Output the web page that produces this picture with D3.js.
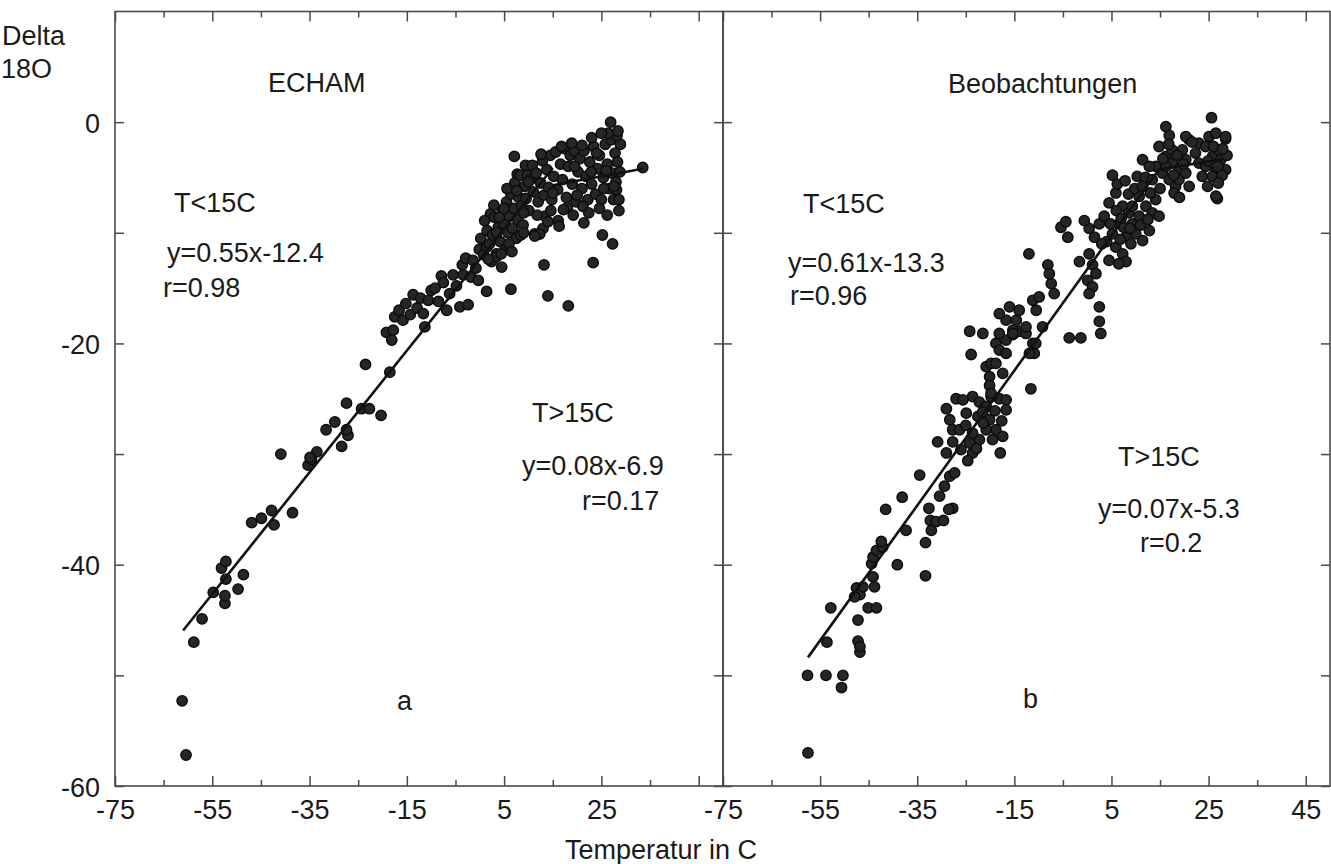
<!DOCTYPE html>
<html><head><meta charset="utf-8">
<script src="https://cdn.jsdelivr.net/npm/d3@7"></script>
<style>html,body{margin:0;padding:0;background:#fff;overflow:hidden}</style>
</head><body>
<svg id="chart" width="1331" height="864"></svg>
<script>
// ---------------- data ----------------
const panelTitles = ["ECHAM", "Beobachtungen"];
const panelLetters = ["a", "b"];
const xTickValues = [-75,-65,-55,-45,-35,-25,-15,-5,5,15,25,35,45];
const xLabelsLeft = [-75,-55,-35,-15,5,25];
const xLabelsRight = [-75,-55,-35,-15,5,25,45];
const yTickValues = [-60,-50,-40,-30,-20,-10,0];
const yLabels = [0,-20,-40,-60];
const yTitleLines = ["Delta", "18O"];
const xTitle = "Temperatur in C";

// ECHAM: [temperature, delta18O]
const echamPoints = [
[-60.4,-57.2],[-61.2,-52.3],[-58.8,-47.0],[-57.1,-44.9],[-54.8,-42.5],[-52.4,-43.5],[-52.4,-42.8],[-53.1,-40.3],[-52.2,-39.7],[-52.2,-41.3],[-49.7,-42.2],[-48.6,-40.9],[-46.9,-36.2],[-44.9,-35.8],[-42.8,-35.1],[-42.3,-36.4],[-38.5,-35.3],[-40.9,-30.0],[-35.3,-31.0],[-34.6,-30.5],[-33.5,-29.8],[-34.9,-30.3],[-29.8,-27.1],[-31.6,-27.8],[-27.1,-28.3],[-27.4,-27.8],[-28.4,-29.3],[-27.4,-25.4],[-24.3,-25.9],[-22.7,-25.9],[-20.3,-26.5],[-23.5,-21.9],[-18.5,-22.6],
[-19.2,-19.0],[-18.1,-19.7],[-17.8,-18.8],[-17.5,-17.6],[-16.6,-17.0],[-15.8,-17.9],[-15.2,-16.4],[-14.3,-17.4],[-13.7,-15.6],[-12.9,-16.8],[-12.2,-15.9],[-11.6,-17.3],[-11.3,-18.5],[-10.6,-16.1],[-10.0,-15.2],[-9.2,-15.0],[-8.5,-16.2],[-7.9,-13.9],[-7.5,-14.5],[-6.8,-17.0],[-6.2,-15.5],[-5.5,-13.8],[-4.8,-14.8],[-4.1,-16.7],[-3.6,-12.9],[-3.4,-13.8],[-2.9,-12.3],[-2.4,-16.5],[-1.8,-14.0],[-1.4,-12.5],[-0.8,-13.2],[-0.3,-14.3],[-0.1,-11.5],[1.4,-11.3],[2.4,-12.6],[3.4,-11.9],[4.5,-13.1],[1.4,-15.3],[6.4,-15.1],
[0.2,-10.5],[0.8,-12.0],[1.5,-9.8],[2.0,-11.0],[2.2,-8.3],[2.6,-10.2],[3.0,-8.6],[3.3,-12.2],[3.8,-9.5],[4.2,-10.8],[4.6,-8.0],[5.0,-9.2],[5.2,-11.5],[5.5,-7.2],[5.8,-10.0],[6.1,-8.5],[6.4,-6.5],[6.7,-9.6],[7.0,-7.8],[7.1,-3.1],[7.2,-5.5],[7.5,-10.5],[7.7,-4.7],[7.8,-8.8],[8.0,-6.8],[8.3,-4.8],[8.6,-7.5],[8.9,-9.3],[9.2,-5.8],[9.5,-6.9],[9.8,-4.8],[10.1,-8.0],[10.4,-5.2],[4.0,-8.6],[5.0,-7.8],[6.0,-11.0],[3.5,-10.0],[9.0,-8.2],[10.0,-5.4],
[1.0,-8.9],[2.9,-7.5],[1.8,-12.4],[4.4,-11.9],[6.6,-11.7],[5.6,-6.0],[7.6,-6.2],[8.4,-10.2],[9.4,-3.9],
[10.8,-3.9],[11.0,-6.3],[11.3,-10.1],[11.6,-4.6],[12.0,-7.2],[12.3,-10.1],[12.5,-5.5],[12.9,-3.5],[13.2,-6.6],[13.4,-8.5],[13.8,-4.3],[14.1,-5.9],[14.5,-3.0],[14.8,-7.0],[15.2,-4.9],[15.6,-2.7],[16.0,-6.1],[16.1,-8.9],[16.3,-9.4],[16.6,-3.8],[17.0,-5.2],[17.4,-2.4],[17.8,-6.8],[18.2,-4.0],[18.6,-3.0],[19.0,-5.6],[19.4,-2.6],[19.8,-7.2],[20.2,-4.5],[20.6,-3.3],[21.0,-6.0],[21.4,-2.6],[21.8,-4.9],[22.2,-7.0],[22.6,-3.6],[23.0,-5.6],[23.4,-2.2],[23.8,-6.5],[24.2,-4.2],[24.6,-3.0],[25.0,-7.0],[25.4,-5.0],[25.8,-2.0],[26.2,-3.8],[26.6,-6.0],[27.0,-1.6],[27.2,-4.6],[27.5,-7.0],[27.8,-2.8],[28.0,-5.4],[28.3,-3.6],[28.6,-7.0],[28.6,-8.0],[28.1,-6.1],[28.8,-4.5],[28.9,-2.0],[26.9,0.0],[33.5,-4.1],
[11.8,-8.4],[14.6,-8.0],[15.0,-6.4],[18.0,-7.7],[19.5,-4.0],[21.2,-7.6],[22.9,-4.5],[24.0,-2.8],[25.5,-6.0],[26.0,-4.4],[27.6,-5.8],[28.2,-1.2],[26.4,-1.0],[9.0,-10.0],[13.0,-9.6],[20.0,-6.6],
[12.6,-2.9],[16.8,-2.2],[18.9,-1.9],[21.0,-2.1],[23.0,-1.4],[25.0,-1.0],[17.2,-7.9],[19.2,-8.4],[22.4,-8.2],[24.6,-7.8],[26.2,-8.4],[28.4,-0.8],[14.0,-9.0],
[21.4,-9.1],[25.2,-10.2],[27.3,-11.0],[23.3,-12.7],[13.2,-12.9],[14.0,-15.7],[18.2,-16.6],[12.3,-10.1],[11.3,-10.3]
];

// Beobachtungen: [temperature, delta18O]
const beobPoints = [
[-57.5,-57.0],[-57.6,-50.0],[-53.8,-50.0],[-50.3,-50.0],[-50.6,-51.1],[-53.6,-47.0],[-52.8,-43.9],[-47.2,-45.0],[-47.2,-46.9],[-46.8,-47.9],[-46.8,-47.4],[-47.5,-42.1],[-46.8,-42.7],[-47.9,-42.9],[-45.1,-43.9],[-43.4,-43.9],[-46.2,-42.0],[-44.1,-41.1],[-43.8,-42.0],[-44.4,-39.9],[-44.1,-39.3],[-43.4,-38.7],[-42.1,-38.4],[-42.4,-37.9],[-39.1,-40.0],[-33.3,-41.0],[-33.3,-38.0],[-37.3,-36.9],[-41.5,-35.0],[-38.1,-33.9],[-34.5,-31.9],[-32.6,-34.9],[-32.3,-36.0],[-32.1,-36.9],[-31.1,-36.1],[-29.6,-36.0],[-30.4,-33.8],[-29.4,-32.9],[-28.3,-32.0],[-27.3,-31.7],[-27.7,-34.9],[-28.5,-35.0],[-30.8,-28.9],[-29.0,-29.9],[-27.7,-28.9],[-27.0,-25.0],[-29.0,-25.9],[-28.3,-26.9],[-27.7,-27.8],[-17.9,-29.9],[-11.6,-24.1],
[-24.2,-29.0],[-23.6,-29.9],[-22.2,-28.7],[-23.6,-24.8],[-22.2,-25.3],[-20.8,-25.7],[-22.5,-26.6],[-21.5,-26.2],[-20.1,-26.9],[-18.8,-27.8],[-18.1,-25.0],[-16.7,-25.1],[-16.7,-26.0],[-19.8,-24.8],[-25.6,-25.1],[-24.9,-26.3],[-26.3,-27.8],[-23.6,-28.1],[-20.8,-27.8],[-19.5,-28.7],[-17.4,-28.4],
[-26.0,-29.6],[-25.0,-27.4],[-21.4,-27.2],[-19.0,-26.1],[-17.6,-27.0],[-24.6,-30.6],[-22.8,-29.5],
[-23.9,-21.0],[-24.2,-18.9],[-20.8,-22.1],[-19.8,-21.8],[-20.1,-23.0],[-20.1,-23.8],[-19.8,-24.5],[-18.8,-20.0],[-18.1,-20.6],[-16.7,-19.7],[-15.3,-19.2],[-14.0,-18.9],[-12.6,-19.1],[-11.2,-20.0],[-10.9,-20.9],[-11.9,-20.9],[-21.5,-19.1],[-18.1,-19.1],[-15.3,-18.8],[-10.6,-20.0],[-18.8,-21.8],[-17.4,-22.7],[-16.7,-20.9],
[-16.7,-17.9],[-14.0,-17.0],[-11.2,-16.1],[-9.9,-15.8],[-12.6,-18.5],[-15.3,-19.1],[-18.1,-17.3],[-16.0,-16.7],[-14.6,-17.9],[-10.5,-17.0],[-9.2,-18.5],
[-12.0,-11.9],[-5.4,-9.5],[-4.4,-9.0],[-4.0,-10.4],[-8.1,-12.9],[-7.8,-13.7],[-7.4,-14.6],[-6.8,-15.5],[-1.6,-12.6],[0.4,-11.9],[1.1,-12.9],[0.1,-14.3],[1.1,-14.9],[0.4,-15.5],[1.8,-13.7],[2.5,-16.7],[2.5,-18.0],[2.8,-19.1],[-3.7,-19.5],[-1.3,-19.5],[0.4,-9.6],[-0.6,-8.9],[1.5,-10.4],[2.5,-9.2],
[4.5,-7.3],[5.9,-6.4],[7.3,-7.6],[8.6,-8.2],[9.3,-9.2],[6.6,-9.2],[5.2,-10.1],[8.0,-10.4],[10.7,-8.5],[12.1,-7.6],[13.4,-8.2],[14.8,-8.5],[14.1,-7.0],[10.7,-6.7],[5.9,-11.3],[7.3,-11.9],[4.5,-12.5],[8.0,-12.6],[11.4,-10.7],[9.3,-7.6],[5.2,-4.8],[10.3,-4.9],[3.5,-8.5],[6.0,-8.0],[7.5,-9.5],[9.0,-11.0],[11.0,-9.3],[12.8,-9.8],[4.0,-10.8],[6.5,-12.8],[8.5,-6.5],[3.0,-11.0],[6.8,-10.6],
[6.2,-5.6],[7.8,-5.3],[9.8,-6.0],[12.0,-5.0],[13.0,-6.4],[4.8,-9.2],[7.0,-8.7],[10.0,-10.1],[12.5,-8.8],[8.8,-9.6],
[14.8,-2.2],[16.2,-3.1],[17.5,-3.7],[18.9,-4.3],[20.3,-3.4],[15.5,-4.6],[16.9,-5.2],[18.2,-5.8],[14.1,-4.0],[19.6,-2.5],[17.5,-2.5],[16.2,-4.0],[18.9,-5.2],[20.3,-4.6],[11.4,-3.4],[12.8,-4.0],[13.4,-5.2],[11.4,-5.8],[16.2,-0.4],[16.9,-1.2],[25.6,0.4],[26.8,-6.9],[17.9,-6.4],[21.0,-5.8],[15.0,-6.0],[19.0,-6.8],
[15.6,-3.3],[17.8,-4.8],[19.8,-3.8],[16.8,-2.0],[18.5,-3.0],
[25.1,-1.3],[26.5,-1.0],[28.5,-1.5],[23.0,-1.9],[24.4,-2.2],[25.8,-3.1],[27.5,-3.4],[26.5,-4.3],[28.5,-4.3],[23.7,-4.9],[25.8,-4.9],[27.8,-4.8],[23.0,-3.7],[21.0,-1.6],[22.3,-2.8],[24.4,-4.0],[27.1,-2.5],[20.3,-1.3],[21.6,-1.8],[28.5,-1.3],[26.5,-6.7],[28.8,-3.0],[24.8,-5.8],[27.0,-5.5],
[26.0,-2.2],[27.9,-2.4],[24.9,-3.5],[26.9,-4.0]
];

// regression segments: slope, intercept, x-range
const echamFits = [
  {slope:0.55, intercept:-12.4, x0:-61.0, x1:15},
  {slope:0.08, intercept:-6.9, x0:15, x1:33.5}
];
const beobFits = [
  {slope:0.61, intercept:-13.3, x0:-57.5, x1:15},
  {slope:0.07, intercept:-5.3, x0:15, x1:28}
];
const echamNotes = ["T<15C","y=0.55x-12.4","r=0.98","T>15C","y=0.08x-6.9","r=0.17"];
const beobNotes  = ["T<15C","y=0.61x-13.3","r=0.96","T>15C","y=0.07x-5.3","r=0.2"];

// ---------------- layout ----------------
const FONT = "'Liberation Sans', Arial, Helvetica, sans-serif";
const FS = 27;
const svg = d3.select("#chart");
const plotTop = 11.5, plotBottom = 786;
const yScale = d3.scaleLinear().domain([-60, 10]).range([plotBottom, plotTop]);

const panels = [
  {x: d3.scaleLinear().domain([-75, 50]).range([115, 723]), pts: echamPoints, fits: echamFits,
   labels: xLabelsLeft, notes: echamNotes, title: panelTitles[0], letter: panelLetters[0],
   titlePos:[268,92], notePos:[[174,212],[167,262],[163,297],[532,422],[522,475],[582,510]], letterPos:[397,710]},
  {x: d3.scaleLinear().domain([-75, 50]).range([723, 1330]), pts: beobPoints, fits: beobFits,
   labels: xLabelsRight, notes: beobNotes, title: panelTitles[1], letter: panelLetters[1],
   titlePos:[948,93], notePos:[[803,213],[788,272],[790,305],[1118,466],[1098,518],[1140,552]], letterPos:[1023,708]}
];

const axisColor = "#4a4a4a";

panels.forEach((p, i) => {
  const g = svg.append("g");
  const [x0, x1] = p.x.range();

  // points
  g.append("g").selectAll("circle").data(p.pts).enter().append("circle")
    .attr("cx", d => p.x(d[0])).attr("cy", d => yScale(d[1])).attr("r", 5.2)
    .attr("fill", "#262626").attr("stroke", "#0c0c0c").attr("stroke-width", 1.4);

  // regression lines
  const line = d3.line().x(d => p.x(d[0])).y(d => yScale(d[1]));
  g.append("g").selectAll("path").data(p.fits).enter().append("path")
    .attr("d", f => line([[f.x0, f.slope*f.x0 + f.intercept],[f.x1, f.slope*f.x1 + f.intercept]]))
    .attr("stroke", "#111").attr("stroke-width", 2.6).attr("fill", "none");

  // axes
  const major = xTickValues.filter((v, k) => k % 2 === 0);
  const minor = xTickValues.filter((v, k) => k % 2 === 1);
  g.append("g").attr("transform", `translate(0,${plotBottom})`)
    .call(d3.axisBottom(p.x).tickValues(major).tickSize(-10).tickPadding(14)
      .tickFormat(v => p.labels.includes(v) ? String(v) : ""));
  g.append("g").attr("transform", `translate(0,${plotBottom})`)
    .call(d3.axisBottom(p.x).tickValues(minor).tickSize(-6).tickFormat(""));
  g.append("g").attr("transform", `translate(0,${plotTop})`)
    .call(d3.axisTop(p.x).tickValues(major).tickSize(-10).tickFormat(""));
  g.append("g").attr("transform", `translate(0,${plotTop})`)
    .call(d3.axisTop(p.x).tickValues(minor).tickSize(-6).tickFormat(""));
  const lAx = g.append("g").attr("transform", `translate(${x0},0)`)
    .call(d3.axisLeft(yScale).tickValues(yTickValues).tickSize(-9).tickPadding(15)
      .tickFormat(v => (i === 0 && yLabels.includes(v)) ? String(v) : ""));
  g.append("g").attr("transform", `translate(${x1},0)`)
    .call(d3.axisRight(yScale).tickValues(yTickValues).tickSize(-9).tickFormat(""));

  g.selectAll(".domain").remove();
  g.selectAll(".tick line").attr("stroke", axisColor).attr("stroke-width", 1.5);
  g.selectAll(".tick text").attr("font-family", FONT).attr("font-size", FS).attr("fill", "#1a1a1a");
  lAx.selectAll(".tick text").attr("dy", "0.37em");

  // frame
  g.append("rect").attr("x", x0).attr("y", plotTop).attr("width", x1 - x0).attr("height", plotBottom - plotTop)
    .attr("fill", "none").attr("stroke", axisColor).attr("stroke-width", 1.6);

  // texts
  const txt = (s, pos) => g.append("text").attr("x", pos[0]).attr("y", pos[1]).text(s)
    .attr("font-family", FONT).attr("font-size", FS).attr("fill", "#1a1a1a");
  txt(p.title, p.titlePos);
  p.notes.forEach((s, k) => txt(s, p.notePos[k]));
  txt(p.letter, p.letterPos);
});

// y-axis title, two lines at the top-left corner
svg.append("text").attr("x", 2).attr("y", 45).text(yTitleLines[0])
  .attr("font-family", FONT).attr("font-size", FS).attr("fill", "#1a1a1a");
svg.append("text").attr("x", 1).attr("y", 78).text(yTitleLines[1])
  .attr("font-family", FONT).attr("font-size", FS).attr("fill", "#1a1a1a");

// x-axis title
svg.append("text").attr("x", 661).attr("y", 859).attr("text-anchor", "middle")
  .attr("font-family", FONT).attr("font-size", FS).attr("fill", "#1a1a1a").text(xTitle);
</script>
</body></html>
